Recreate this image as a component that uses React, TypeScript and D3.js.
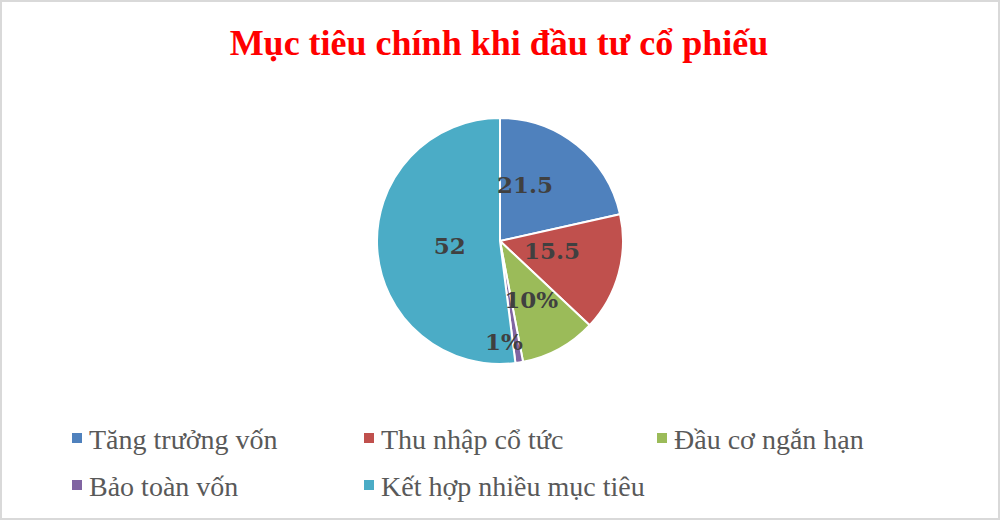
import * as d3 from 'd3';

const categories = ['Tăng trưởng vốn', 'Thu nhập cổ tức', 'Đầu cơ ngắn hạn', 'Bảo toàn vốn', 'Kết hợp nhiều mục tiêu'];
const values = [21.5, 15.5, 10, 1, 52];
const labels = ['21.5', '15.5', '10%', '1%', '52'];
const colors = ['#4F81BD', '#C0504D', '#9BBB59', '#8064A2', '#4BACC6'];

// label placement inside each slice: position along the slice (0..1) and radius fraction
const labelAlong = [0.31, 0.42, 0.52, 2.4, 0.49];
const labelRadius = [0.5, 0.43, 0.54, 0.82, 0.41];

const width = 1000;
const height = 520;
const cx = 500;
const cy = 241;
const radius = 123;

const App = (): React.ReactElement => {
  const pie = d3.pie<number>().sort(null).value((d) => d);
  const arcs = pie(values);
  const arc = d3.arc<d3.PieArcDatum<number>>().innerRadius(0).outerRadius(radius);

  const legendX = [72, 364, 657];
  const legendY = [449, 496];

  return (
    <svg
      width={width}
      height={height}
      style={{ position: 'absolute', left: 0, top: 0, background: '#fff' }}
    >
      <rect x={1} y={1} width={width - 2} height={height - 2} fill="#fff" stroke="#d9d9d9" strokeWidth={2} />
      <text
        x={499}
        y={55}
        textAnchor="middle"
        fontFamily="'Liberation Serif', serif"
        fontWeight="bold"
        fontSize={36}
        fill="#FF0000"
      >
        Mục tiêu chính khi đầu tư cổ phiếu
      </text>
      <g transform={`translate(${cx},${cy})`}>
        {arcs.map((a, i) => (
          <path key={i} d={arc(a) ?? ''} fill={colors[i]} stroke="#fff" strokeWidth={2} />
        ))}
        {arcs.map((a, i) => {
          const ang = a.startAngle + (a.endAngle - a.startAngle) * labelAlong[i];
          const r = radius * labelRadius[i];
          return (
            <text
              key={i}
              x={Math.sin(ang) * r}
              y={-Math.cos(ang) * r}
              dy="0.36em"
              textAnchor="middle"
              fontFamily="'DejaVu Serif', serif"
              fontWeight="bold"
              fontSize={23}
              fill="#404040"
            >
              {labels[i]}
            </text>
          );
        })}
      </g>
      {categories.map((c, i) => {
        const col = i % 3;
        const row = Math.floor(i / 3);
        return (
          <g key={c} transform={`translate(${legendX[col]},${legendY[row]})`}>
            <rect x={0} y={-16} width={10} height={10} fill={colors[i]} />
            <text x={17} y={0} fontFamily="'Liberation Serif', serif" fontSize={28} fill="#595959">
              {c}
            </text>
          </g>
        );
      })}
    </svg>
  );
};

export default App;
